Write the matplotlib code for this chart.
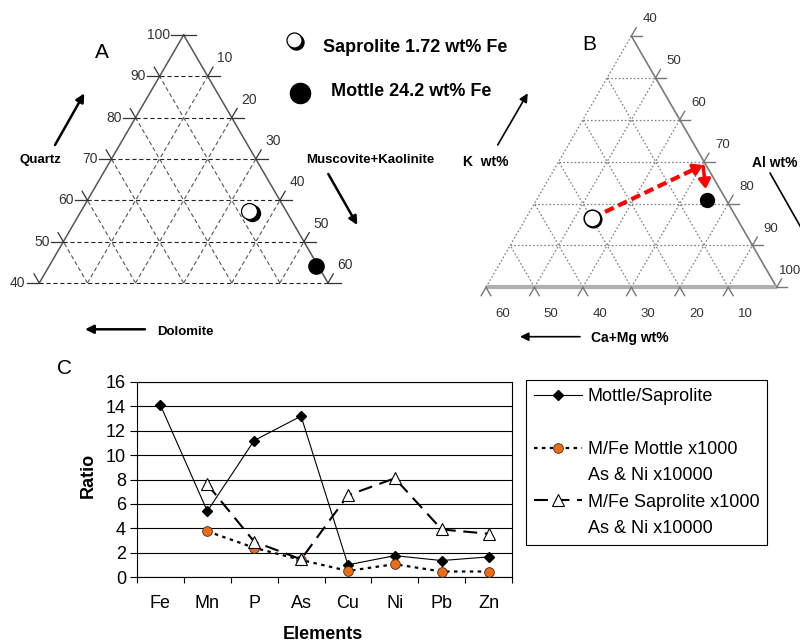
import numpy as np
import matplotlib
matplotlib.use("Agg")
import matplotlib.pyplot as plt
from matplotlib.lines import Line2D
from matplotlib.transforms import ScaledTranslation

plt.rcParams["font.family"] = ["Liberation Sans", "DejaVu Sans"]
plt.rcParams["lines.scale_dashes"] = False

# ---- panel C data ----
elements = ["Fe", "Mn", "P", "As", "Cu", "Ni", "Pb", "Zn"]
mottle_saprolite = [14.1, 5.4, 11.2, 13.2, 1.0, 1.75, 1.35, 1.65]
mfe_mottle = [np.nan, 3.75, 2.4, 1.4, 0.5, 1.05, 0.45, 0.45]
mfe_saprolite = [np.nan, 7.6, 2.9, 1.45, 6.7, 8.1, 3.9, 3.55]

# ---- panel A data: (quartz, muscovite+kaolinite, dolomite) wt% ----
sap_A = (57.5, 34.9, 7.6)
mot_A = (44.2, 55.5, 0.3)

# ---- panel B data: (K, Al, Ca+Mg) wt% ----
sap_B = (16.5, 53.6, 29.9)
mot_B = (20.8, 75.2, 4.0)
turn_B = (29.2, 70.2, 0.6)

W, H = 800, 643
S3 = np.sqrt(3) / 2

fig = plt.figure(figsize=(W / 100, H / 100), dpi=100)

# overlay in pixel units for free labels and arrows
ov = fig.add_axes([0, 0, 1, 1])
ov.set_xlim(0, W)
ov.set_ylim(H, 0)
ov.axis("off")


def tern_A(q, m, d):
    return m + (q - 40) / 2, (q - 40) * S3


def tern_B(k, al, ca):
    return (al - 40) + k / 2, k * S3


def tern_axes(x0, y0, sx, sy, pad=10):
    lo, hi = -pad, 60 + pad
    ylo, yhi = -pad, 52 + pad
    rect = [(x0 + lo * sx) / W, 1 - (y0 + pad * sy) / H,
            (hi - lo) * sx / W, (yhi - ylo) * sy / H]
    ax = fig.add_axes(rect)
    ax.set_xlim(lo, hi)
    ax.set_ylim(ylo, yhi)
    ax.axis("off")
    return ax


def seg(ax, p, q, **kw):
    ax.plot([p[0], q[0]], [p[1], q[1]], **kw)


# ================= panel A =================
axA = tern_axes(39.3, 283, 4.812, 4.773)
gA = dict(color="#222222", lw=0.8, dashes=(3, 2))
for q in range(40, 100, 10):
    seg(axA, tern_A(q, 0, 100 - q), tern_A(q, 100 - q, 0), **gA)
for v in range(10, 60, 10):
    seg(axA, tern_A(40, v, 60 - v), tern_A(100 - v, v, 0), color="#555555", lw=0.8, dashes=(3, 2))
    seg(axA, tern_A(40, 60 - v, v), tern_A(100 - v, 0, v), color="#555555", lw=0.8, dashes=(3, 2))
seg(axA, tern_A(40, 0, 60), tern_A(100, 0, 0), color="#555555", lw=1.1)
seg(axA, tern_A(40, 60, 0), tern_A(100, 0, 0), color="#555555", lw=1.1)

tk = dict(color="#333333", lw=0.9)
for q in range(40, 101, 10):
    x, y = tern_A(q, 0, 100 - q)
    seg(axA, (x, y), (x - 2.6, y), **tk)
    if q < 100:
        seg(axA, (x, y), (x - 0.5 * 2.2, y + S3 * 2.2), **tk)
    axA.annotate(str(q), (x, y), xytext=(-10, 0), textcoords="offset points",
                 ha="right", va="center", fontsize=10, color="#333333")
for m in range(0, 61, 10):
    x, y = tern_A(100 - m, m, 0)
    seg(axA, (x, y), (x + 2.6, y), **tk)
    if m > 0:
        seg(axA, (x, y), (x + 0.5 * 2.2, y + S3 * 2.2), **tk)
        axA.annotate(str(m), (x, y), xytext=(7, 13), textcoords="offset points",
                     ha="left", va="center", fontsize=10, color="#333333")

shadow = ScaledTranslation(1.6 / 72, -1.6 / 72, fig.dpi_scale_trans)
xa, ya = tern_A(*sap_A)
axA.plot(xa, ya, "o", ms=11.5, mfc="k", mec="k", transform=axA.transData + shadow)
axA.plot(xa, ya, "o", ms=11.5, mfc="w", mec="k", mew=0.9)
xa, ya = tern_A(*mot_A)
axA.plot(xa, ya, "o", ms=11, mfc="k", mec="k")

# ================= panel B =================
axB = tern_axes(486, 287.3, 4.845, 4.836)
gB = dict(color="#808080", lw=0.9, dashes=(1.2, 1.5))
for k in range(10, 60, 10):
    seg(axB, tern_B(k, 40, 60 - k), tern_B(k, 100 - k, 0), **gB)
seg(axB, tern_B(0, 40, 60), tern_B(60, 40, 0), **gB)
for v in range(10, 60, 10):
    seg(axB, tern_B(0, 100 - v, v), tern_B(60 - v, 40, v), **gB)
for al in range(50, 100, 10):
    seg(axB, tern_B(0, al, 100 - al), tern_B(100 - al, al, 0), **gB)
seg(axB, tern_B(0, 100, 0), tern_B(60, 40, 0), color="#7a7a7a", lw=1.2)
seg(axB, tern_B(0, 40, 60), tern_B(0, 100, 0), color="#b0b0b0", lw=3, solid_capstyle="butt")

tkB = dict(color="#777777", lw=1.0)
for al in range(40, 101, 10):
    x, y = tern_B(100 - al, al, 0)
    seg(axB, (x, y), (x + 2.2, y), **tkB)
    seg(axB, (x, y), (x + 0.5 * 2.0, y + S3 * 2.0), **tkB)
    # the last label sits at the figure edge; keep it inside
    dx = 8 if al < 100 else 1.5
    axB.annotate(str(al), (x, y), xytext=(dx, 12), textcoords="offset points",
                 ha="left", va="center", fontsize=9.5, color="#333333")
for ca in range(10, 61, 10):
    x, y = tern_B(0, 100 - ca, ca)
    seg(axB, (x, y), (x - 0.5 * 2.0, y - S3 * 2.0), **tkB)
    seg(axB, (x, y), (x + 0.5 * 2.0, y - S3 * 2.0), **tkB)
    axB.annotate(str(ca), (x, y), xytext=(12, -19), textcoords="offset points",
                 ha="center", va="center", fontsize=9.5, color="#333333")

# red path saprolite -> mottle
p0 = np.array(tern_B(*sap_B))
p1 = np.array(tern_B(*turn_B))
p2 = np.array(tern_B(*mot_B))
v = p1 - p0
back = p1 - v / np.hypot(*v) * 1.8
axB.plot([p0[0], back[0]], [p0[1], back[1]], color="red", lw=3, dashes=(7, 3.5),
         solid_capstyle="butt", dash_capstyle="butt")
axB.annotate("", xy=p1, xytext=back,
             arrowprops=dict(arrowstyle="-|>,head_length=0.55,head_width=0.35",
                             color="red", lw=2.5, shrinkA=0, shrinkB=0))
axB.annotate("", xy=p2, xytext=p1,
             arrowprops=dict(arrowstyle="-|>,head_length=0.55,head_width=0.35",
                             color="red", lw=2.5, shrinkA=1, shrinkB=8))

xb, yb = p0
axB.plot(xb, yb, "o", ms=12, mfc="k", mec="k", transform=axB.transData
         + ScaledTranslation(0.8 / 72, -0.8 / 72, fig.dpi_scale_trans))
axB.plot(xb, yb, "o", ms=12, mfc="w", mec="k", mew=1.1)
axB.plot(*p2, "o", ms=10, mfc="k", mec="k")

# ================= labels / arrows (overlay) =================
ov.text(102, 52, "A", fontsize=15, ha="center", va="center")
ov.text(589, 45, "B", fontsize=15, ha="center", va="center")
ov.text(64, 368, "C", fontsize=15, ha="center", va="center")

ov.plot(294.3, 39.5, "o", ms=10.8, mfc="k", mec="k",
        transform=ov.transData + ScaledTranslation(1.5 / 72, -1.5 / 72, fig.dpi_scale_trans))
ov.plot(294.3, 39.5, "o", ms=10.8, mfc="w", mec="k", mew=0.9)
ov.plot(299.7, 93.3, "o", ms=14.5, mfc="k", mec="k")
ov.text(323, 47, "Saprolite 1.72 wt% Fe", fontsize=13, fontweight="bold", ha="left", va="center")
ov.text(331, 92, "Mottle 24.2 wt% Fe", fontsize=13, fontweight="bold", ha="left", va="center")

ov.text(40, 160, "Quartz", fontsize=9.5, fontweight="bold", ha="center", va="center")
ov.text(370, 160, "Muscovite+Kaolinite", fontsize=9.5, fontweight="bold", ha="center", va="center")
ov.text(185, 332, "Dolomite", fontsize=9.5, fontweight="bold", ha="center", va="center")
ov.text(486, 162, "K  wt%", fontsize=10, fontweight="bold", ha="center", va="center")
ov.text(775, 163, "Al wt%", fontsize=10, fontweight="bold", ha="center", va="center")
ov.text(630, 338, "Ca+Mg wt%", fontsize=10, fontweight="bold", ha="center", va="center")

arrA = dict(arrowstyle="-|>,head_length=0.5,head_width=0.25", color="k", lw=1.8,
            shrinkA=0, shrinkB=0)
arrB = dict(arrowstyle="-|>,head_length=0.5,head_width=0.25", color="k", lw=1.2,
            shrinkA=0, shrinkB=0)
for (a, b), st in [(((55, 145), (84.3, 93.3)), arrA),
                   (((328.3, 174), (357.3, 225)), arrA),
                   (((145, 329.3), (85, 329.3)), arrA),
                   (((497.7, 145), (527.7, 93.3)), arrB),
                   (((770, 173), (808, 240)), arrB),
                   (((580, 336.7), (520, 336.7)), arrB)]:
    ov.annotate("", xy=b, xytext=a, arrowprops=st, annotation_clip=False)

# ================= panel C =================
axC = fig.add_axes([137 / W, 1 - 577 / H, 375 / W, 195 / H])
x = np.arange(len(elements)) + 0.5
l1, = axC.plot(x, mottle_saprolite, color="k", lw=0.8, marker="D", ms=5.5,
               mfc="k", mec="k", zorder=3)
l2, = axC.plot(x, mfe_mottle, color="k", lw=1.6, dashes=(2.5, 3.2), marker="o",
               ms=7, mfc="#f26b10", mec="#333333", mew=0.6, zorder=3)
l3, = axC.plot(x, mfe_saprolite, color="k", lw=1.5, dashes=(10, 5.5), marker="^",
               ms=8, mfc="w", mec="k", mew=0.8, zorder=3)
axC.set_xlim(0, 8)
axC.set_ylim(0, 16)
axC.set_yticks(range(0, 17, 2))
axC.yaxis.grid(True, color="k", lw=0.8)
axC.set_axisbelow(True)
axC.set_xticks(range(9))
axC.set_xticklabels([])
axC.set_xticks(x, minor=True)
axC.set_xticklabels(elements, minor=True)
axC.tick_params(axis="x", which="major", length=4, width=0.8, direction="out")
axC.tick_params(axis="x", which="minor", length=0, pad=13, labelsize=13)
axC.tick_params(axis="y", length=5, width=0.8, labelsize=13, pad=3)
for s in axC.spines.values():
    s.set_linewidth(0.8)
axC.set_ylabel("Ratio", fontsize=13, fontweight="bold")
axC.yaxis.set_label_coords(-0.106, 0.52)
axC.set_xlabel("Elements", fontsize=13, fontweight="bold")
axC.xaxis.set_label_coords(0.496, -0.25)

blank = Line2D([], [], color="none")
leg = fig.legend([l1, blank, l2, blank, l3, blank],
                 ["Mottle/Saprolite", " ", "M/Fe Mottle x1000", "As & Ni x10000",
                  "M/Fe Saprolite x1000", "As & Ni x10000"],
                 loc="upper left", bbox_to_anchor=(526 / W, 1 - 380 / H),
                 frameon=True, fancybox=False, edgecolor="k", framealpha=1,
                 fontsize=13, handlelength=2.66, handletextpad=0.3,
                 labelspacing=0.52, borderpad=0.45, borderaxespad=0, numpoints=1)
leg.get_frame().set_linewidth(0.8)

fig.savefig("out.png", dpi=100)
